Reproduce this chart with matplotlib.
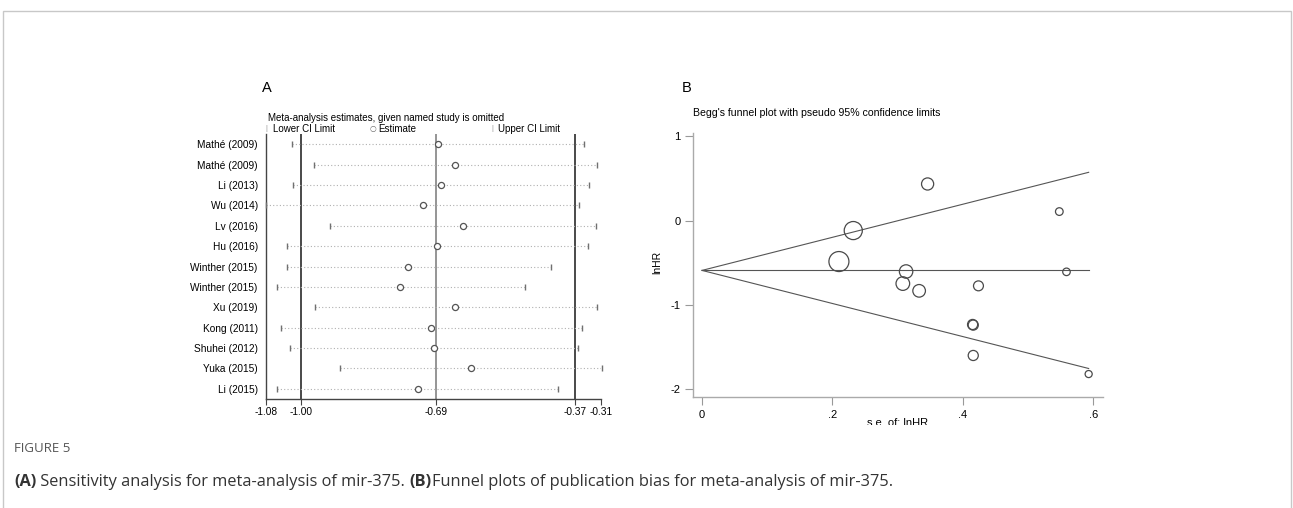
import matplotlib
matplotlib.use("Agg")
import matplotlib.pyplot as plt
from matplotlib.patches import Rectangle
from matplotlib.transforms import Bbox, TransformedBbox
import numpy as np

plt.rcParams['font.family'] = ['Liberation Sans', 'DejaVu Sans']

# ---------------- Data: panel A (sensitivity analysis) ----------------
studies = ["Mathé (2009)", "Mathé (2009)", "Li (2013)", "Wu (2014)", "Lv (2016)",
           "Hu (2016)", "Winther (2015)", "Winther (2015)", "Xu (2019)",
           "Kong (2011)", "Shuhei (2012)", "Yuka (2015)", "Li (2015)"]
lower_ci = [-1.020, -0.969, -1.017, -1.080, -0.932, -1.031, -1.031, -1.055,
            -0.967, -1.046, -1.025, -0.911, -1.054]
estimate = [-0.684, -0.646, -0.678, -0.719, -0.628, -0.686, -0.754, -0.771,
            -0.645, -0.700, -0.695, -0.609, -0.731]
upper_ci = [-0.348, -0.320, -0.337, -0.360, -0.321, -0.341, -0.425, -0.485,
            -0.320, -0.354, -0.363, -0.308, -0.408]
a_ticks = [-1.08, -1.00, -0.69, -0.37, -0.31]
a_tick_labels = ["-1.08", "-1.00", "-0.69", "-0.37", "-0.31"]
ref_lines = [-1.00, -0.69, -0.37]

# ---------------- Data: panel B (Begg's funnel plot) ----------------
se_lnhr = [0.346, 0.232, 0.210, 0.313, 0.308, 0.333, 0.424, 0.415, 0.416,
           0.416, 0.548, 0.559, 0.593]
lnhr = [0.434, -0.118, -0.485, -0.603, -0.746, -0.832, -0.773, -1.231, -1.238,
        -1.598, 0.107, -0.607, -1.818]
pooled = -0.59
b_xticks = [0, 0.2, 0.4, 0.6]
b_xtick_labels = ["0", ".2", ".4", ".6"]
b_yticks = [1, 0, -1, -2]
b_ytick_labels = ["1", "0", "-1", "-2"]

W, H = 1293, 508
DPI = 100
fig = plt.figure(figsize=(W / DPI, H / DPI), dpi=DPI)
fig.patch.set_facecolor("white")


def px_axes(l, t, r, b):
    return fig.add_axes([l / W, 1 - b / H, (r - l) / W, (b - t) / H])


# outer frame
fig.add_artist(Rectangle((3 / W, -0.05), (1291 - 3) / W, 1 - 11 / H + 0.05,
                         transform=fig.transFigure, fill=False,
                         edgecolor="#c8c8c8", lw=1.0))

FS = 7.0
# ---------------- Panel A ----------------
axA = px_axes(266, 134, 601, 399)
n = len(studies)
ypos = np.arange(n)
axA.set_xlim(-1.08, -0.31)
axA.set_ylim(n - 0.5, -0.5)
for v, c in zip(ref_lines, ["#3a3a3a", "#8c8c8c", "#3a3a3a"]):
    axA.axvline(v, color=c, lw=1.3, zorder=1)
for i in range(n):
    axA.plot([lower_ci[i], upper_ci[i]], [i, i], ls=(0, (1, 2)), color="#b0b0b0",
             lw=0.8, zorder=2)
axA.plot(lower_ci, ypos, ls="none", marker="|", ms=4.5, mew=1.0, color="#707070",
         zorder=3, clip_on=False)
axA.plot(upper_ci, ypos, ls="none", marker="|", ms=4.5, mew=1.0, color="#707070",
         zorder=3, clip_on=False)
axA.plot(estimate, ypos, ls="none", marker="o", ms=4.4, mfc="white",
         mec="#555555", mew=0.9, zorder=4)
axA.set_yticks(ypos)
axA.set_yticklabels(studies, fontsize=FS + 0.3)
axA.tick_params(axis="y", length=0, pad=6)
axA.set_xticks(a_ticks)
axA.set_xticklabels(a_tick_labels, fontsize=FS + 0.3)
axA.tick_params(axis="x", length=4, width=0.8, color="#444444", pad=2)
for s in ["top", "right"]:
    axA.spines[s].set_visible(False)
for s in ["left", "bottom"]:
    axA.spines[s].set_color("#444444")
    axA.spines[s].set_linewidth(1.0)

fig.text(262 / W, 1 - 88 / H, "A", fontsize=10.5, ha="left", va="center")
fig.text(268 / W, 1 - 118 / H, "Meta-analysis estimates, given named study is omitted",
         fontsize=FS, ha="left", va="center")
ly = 1 - 128.5 / H
fig.text(265 / W, ly, "|", fontsize=5.5, color="#999999", ha="left", va="center")
fig.text(273 / W, ly, "Lower CI Limit", fontsize=FS, ha="left", va="center")
fig.text(370 / W, ly, "\u25CB", fontsize=5.5, color="#666666", ha="left", va="center",
         family=["DejaVu Sans"])
fig.text(378 / W, ly, "Estimate", fontsize=FS, ha="left", va="center")
fig.text(491 / W, ly, "|", fontsize=5.5, color="#999999", ha="left", va="center")
fig.text(498 / W, ly, "Upper CI Limit", fontsize=FS, ha="left", va="center")

# ---------------- Panel B ----------------
axB = px_axes(693, 133, 1103, 397)
axB.set_xlim(-0.0138, 0.615)
axB.set_ylim(-2.09, 1.038)
se_max = max(se_lnhr)
se_line = np.array([0.0, se_max])
axB.plot(se_line, [pooled, pooled], color="#555555", lw=0.8, zorder=1)
axB.plot(se_line, pooled + 1.96 * se_line, color="#555555", lw=0.8, zorder=1)
axB.plot(se_line, pooled - 1.96 * se_line, color="#555555", lw=0.8, zorder=1)
se_arr = np.array(se_lnhr)
r_px = 2.1 / se_arr
d_pt = 2 * r_px * 72 / DPI
axB.scatter(se_lnhr, lnhr, s=d_pt ** 2, facecolors="none", edgecolors="#4a4a4a",
            linewidths=0.9, zorder=3)
axB.set_xticks(b_xticks)
axB.set_xticklabels(b_xtick_labels, fontsize=8)
axB.set_yticks(b_yticks)
axB.set_yticklabels(b_ytick_labels, fontsize=8)
axB.tick_params(axis="both", length=6, width=0.8, color="#999999", direction="out",
                pad=3)
for s in ["top", "right"]:
    axB.spines[s].set_visible(False)
for s in ["left", "bottom"]:
    axB.spines[s].set_color("#aaaaaa")
    axB.spines[s].set_linewidth(1.0)
axB.set_ylabel("lnHR", fontsize=7.5)
axB.yaxis.set_label_coords((662 - 693) / (1103 - 693), (397 - 262) / (397 - 133))
xl = fig.text(898 / W, 1 - 423.5 / H, "s.e. of: lnHR", fontsize=8,
              ha="center", va="center")
fig.text(682 / W, 1 - 88 / H, "B", fontsize=10.5, ha="left", va="center")
fig.text(693 / W, 1 - 113 / H, "Begg's funnel plot with pseudo 95% confidence limits",
         fontsize=7.6, ha="left", va="center")

# clip the x label of panel B like the original
xl.set_clip_on(True)
xl.set_clip_box(TransformedBbox(Bbox([[0, 1 - 424.5 / H], [1, 1]]), fig.transFigure))

# ---------------- Caption ----------------
fig.text(14 / W, 1 - 449 / H, "FIGURE 5", fontsize=9.5, color="#555555",
         family=["Liberation Sans Narrow", "Open Sans", "DejaVu Sans"],
         ha="left", va="center")
cap_y = 1 - 482 / H
CFS = 11.8
cfam = ["Open Sans", "DejaVu Sans"]
t1 = fig.text(14 / W, cap_y, "(A)", fontsize=CFS, fontweight="bold", color="#333333",
              family=cfam, ha="left", va="center")
fig.canvas.draw()
r = fig.canvas.get_renderer()
x = t1.get_window_extent(r).x1
t2 = fig.text(x / W, cap_y, " Sensitivity analysis for meta-analysis of mir-375. ",
              fontsize=CFS, color="#333333", family=cfam, ha="left", va="center")
x = t2.get_window_extent(r).x1
t3 = fig.text(x / W, cap_y, "(B)", fontsize=CFS, fontweight="bold", color="#333333",
              family=cfam, ha="left", va="center")
x = t3.get_window_extent(r).x1
fig.text(x / W, cap_y, "Funnel plots of publication bias for meta-analysis of mir-375.",
         fontsize=CFS, color="#333333", family=cfam, ha="left", va="center")

fig.savefig("out.png", dpi=DPI, facecolor="white")
